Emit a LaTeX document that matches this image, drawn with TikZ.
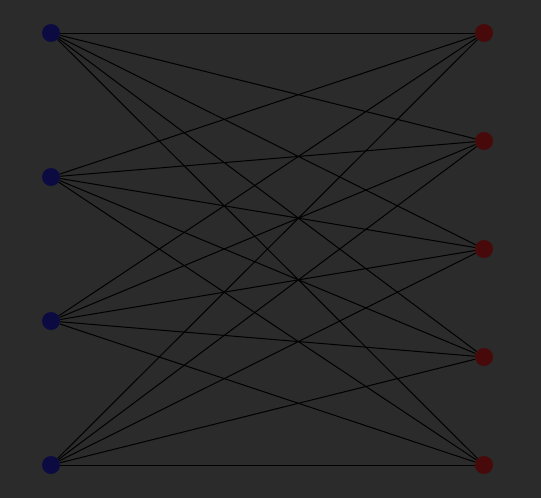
\documentclass[tikz,border=0pt]{standalone}
\usepackage{xcolor}
\usepackage{tikz}
\definecolor{bgdark}{HTML}{2B2B2B}
\definecolor{leftblue}{HTML}{0B0B42}
\definecolor{rightred}{HTML}{470909}
\tikzset{
  leftnode/.style={circle, fill=leftblue, draw=none, minimum size=18pt, inner sep=0pt},
  rightnode/.style={circle, fill=rightred, draw=none, minimum size=18pt, inner sep=0pt},
  edge/.style={line width=1pt, draw=black}
}
\begin{document}
\begin{tikzpicture}[x=1pt, y=-1pt]
  \fill[bgdark] (0,0) rectangle (541,498);
  \useasboundingbox (0,0) rectangle (541,498);
  \foreach \i/\y in {1/33, 2/177, 3/321, 4/465}
    \node[leftnode] (l\i) at (51,\y) {};
  \foreach \j/\y in {1/33, 2/141, 3/249, 4/357, 5/465}
    \node[rightnode] (r\j) at (484,\y) {};
  \foreach \i in {1,...,4}
    \foreach \j in {1,...,5}
      \draw[edge] (l\i) -- (r\j);
\end{tikzpicture}
\end{document}
